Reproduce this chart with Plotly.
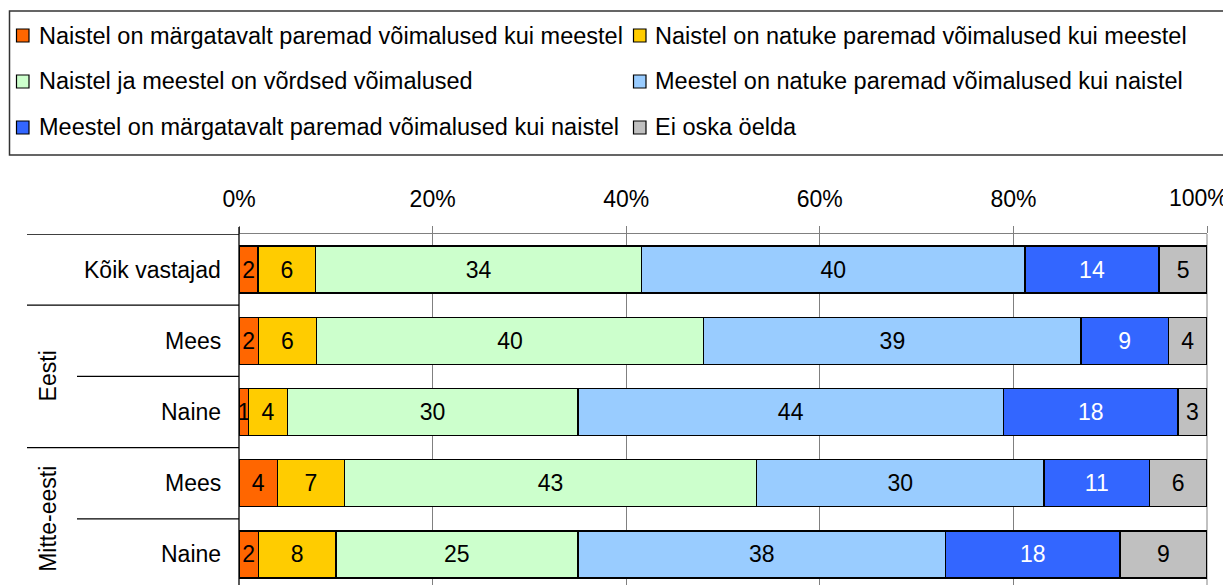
import plotly.graph_objects as go

# ---------------- data ----------------
series_names = [
    "Naistel on märgatavalt paremad võimalused kui meestel",
    "Naistel on natuke paremad võimalused kui meestel",
    "Naistel ja meestel on võrdsed võimalused",
    "Meestel on natuke paremad võimalused kui naistel",
    "Meestel on märgatavalt paremad võimalused kui naistel",
    "Ei oska öelda",
]
row_labels = ["Kõik vastajad", "Mees", "Naine", "Mees", "Naine"]
group_labels = ["Eesti", "Mitte-eesti"]
group_rows = [[1, 2], [3, 4]]

much_better_women = [2, 2, 1, 4, 2]
bit_better_women = [6, 6, 4, 7, 8]
equal = [34, 40, 30, 43, 25]
bit_better_men = [40, 39, 44, 30, 38]
much_better_men = [14, 9, 18, 11, 18]
dont_know = [5, 4, 3, 6, 9]

x_ticks = [0, 20, 40, 60, 80, 100]
x_tick_labels = ["0%", "20%", "40%", "60%", "80%", "100%"]

# ---------------- styling ----------------
colors = ["#FF6600", "#FFCC00", "#CCFFCC", "#99CCFF", "#3366FF", "#C0C0C0"]
text_colors = ["black", "black", "black", "black", "white", "black"]
FONT = "Liberation Sans, Arial, sans-serif"
FS = 23
FS_LEG = 23.5

# page offset of the plot div (default body margin)
OFF = 8
W, H = 1231 - OFF, 585 - OFF
# plot area in window pixels
L, R, T, B = 239, 1207, 234, 585


def px(x):
    return (x - L) / (R - L)


def py(y):
    return (B - y) / (B - T)


series = [much_better_women, bit_better_women, equal,
          bit_better_men, much_better_men, dont_know]
ypos = list(range(len(row_labels)))

fig = go.Figure()
for name, vals, col, tcol in zip(series_names, series, colors, text_colors):
    fig.add_trace(go.Bar(
        y=ypos, x=vals, name=name, orientation="h",
        marker=dict(color=col, line=dict(color="black", width=1.5)),
        text=[str(v) for v in vals], textposition="inside",
        insidetextanchor="middle", textangle=0,
        textfont=dict(family=FONT, size=FS, color=tcol),
        width=0.66, hoverinfo="skip",
    ))

shapes = []
annotations = []

# row labels
for i, lab in enumerate(row_labels):
    annotations.append(dict(
        x=0, xref="paper", y=i, yref="y", text=lab, showarrow=False,
        xanchor="right", yanchor="middle", xshift=-16,
        font=dict(family=FONT, size=FS, color="black")))

# group labels (rotated)
for g, rows in zip(group_labels, group_rows):
    annotations.append(dict(
        x=px(48), xref="paper", y=sum(rows) / len(rows), yref="y", text=g,
        showarrow=False, textangle=-90, xanchor="center", yanchor="middle",
        font=dict(family=FONT, size=FS, color="black")))

# last tick label drawn separately so that it stays inside the page
shown_tick_text = x_tick_labels[:-1] + [""]
annotations.append(dict(
    x=px(1230), xref="paper", y=py(198), yref="paper", text=x_tick_labels[-1],
    showarrow=False, xanchor="right", yanchor="middle",
    font=dict(family=FONT, size=FS, color="black")))

# separator lines in the category area
sep_specs = [(-0.5, 27), (0.5, 27), (1.5, 77), (2.5, 27), (3.5, 77)]
for yv, x0 in sep_specs:
    shapes.append(dict(type="line", xref="paper", yref="y",
                       x0=px(x0), x1=0, y0=yv, y1=yv,
                       line=dict(color="black", width=1.3)))

# right border at 100%
shapes.append(dict(type="line", xref="paper", yref="paper",
                   x0=1, x1=1, y0=0, y1=1, layer="below",
                   line=dict(color="#A0A0A0", width=1.3)))

# vertical axis line (extending above as tick)
shapes.append(dict(type="line", xref="paper", yref="paper",
                   x0=0, x1=0, y0=0, y1=py(227),
                   line=dict(color="black", width=1.3)))

# legend box
shapes.append(dict(type="rect", xref="paper", yref="paper",
                   x0=px(9.5), x1=px(1245), y0=py(155), y1=py(11),
                   line=dict(color="#333333", width=1.5),
                   fillcolor="rgba(0,0,0,0)"))
leg_rows = [35.5, 81.5, 127.5]
leg_cols = [(16.5, 37), (633.5, 653)]
for k, (name, col) in enumerate(zip(series_names, colors)):
    r, c = divmod(k, 2)
    mx, tx = leg_cols[c]
    cy = leg_rows[r]
    shapes.append(dict(type="rect", xref="paper", yref="paper",
                       x0=px(mx), x1=px(mx + 12.5),
                       y0=py(cy + 6.5), y1=py(cy - 6.5),
                       fillcolor=col, line=dict(color="black", width=1.2)))
    annotations.append(dict(
        x=px(tx), xref="paper", y=py(cy), yref="paper", text=name,
        showarrow=False, xanchor="left", yanchor="middle",
        font=dict(family=FONT, size=FS_LEG, color="black")))

fig.update_layout(
    width=W, height=H,
    margin=dict(l=L - OFF, r=1231 - R, t=T - OFF, b=585 - B, pad=0),
    paper_bgcolor="white", plot_bgcolor="white",
    barmode="stack", barnorm="percent", showlegend=False,
    uniformtext=dict(minsize=FS, mode="show"),
    shapes=shapes, annotations=annotations,
    xaxis=dict(
        side="top", range=[0, 100], tickvals=x_ticks, ticktext=shown_tick_text,
        ticks="outside", ticklen=7, tickcolor="#808080", tickwidth=1.3,
        ticklabelstandoff=10, automargin=False,
        showgrid=True, gridcolor="#808080", gridwidth=1.3,
        showline=True, linecolor="#808080", linewidth=1.3, mirror=False,
        zeroline=False,
        tickfont=dict(family=FONT, size=FS, color="black"),
        fixedrange=True,
    ),
    yaxis=dict(
        range=[4.43, -0.5], showticklabels=False, showgrid=False,
        zeroline=False, showline=False, ticks="", fixedrange=True,
        automargin=False,
    ),
)

fig.write_html("out.html")
